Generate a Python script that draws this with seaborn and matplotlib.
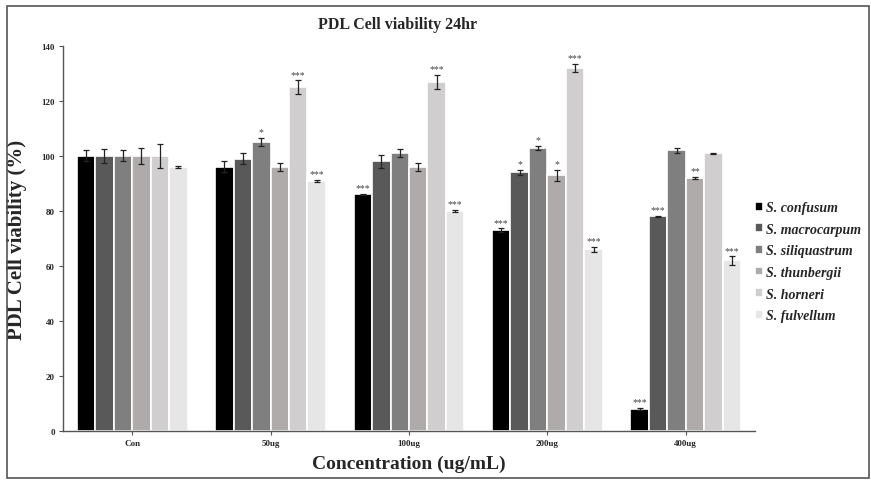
import numpy as np
import pandas as pd
import matplotlib
matplotlib.use("Agg")
import matplotlib.pyplot as plt
import seaborn as sns
from matplotlib.patches import Rectangle

concentrations = ["Con", "50ug", "100ug", "200ug", "400ug"]
species = ["S. confusum", "S. macrocarpum", "S. siliquastrum",
           "S. thunbergii", "S. horneri", "S. fulvellum"]

# mean viability (%) per species, one value per concentration
confusum = [100, 96, 86, 73, 8]
macrocarpum = [100, 99, 98, 94, 78]
siliquastrum = [100, 105, 101, 103, 102]
thunbergii = [100, 96, 96, 93, 92]
horneri = [100, 125, 127, 132, 101]
fulvellum = [96, 91, 80, 66, 62]

# error (+/-) per species
confusum_err = [2.0, 2.0, 0.3, 0.7, 0.3]
macrocarpum_err = [2.5, 2.0, 2.5, 1.0, 0.3]
siliquastrum_err = [2.0, 1.5, 1.5, 0.7, 0.8]
thunbergii_err = [3.0, 1.5, 1.5, 2.0, 0.5]
horneri_err = [4.5, 2.5, 2.5, 1.5, 0.2]
fulvellum_err = [0.3, 0.3, 0.3, 1.0, 1.5]

# significance marks
confusum_sig = ["", "", "***", "***", "***"]
macrocarpum_sig = ["", "", "", "*", "***"]
siliquastrum_sig = ["", "*", "", "*", ""]
thunbergii_sig = ["", "", "", "*", "**"]
horneri_sig = ["", "***", "***", "***", ""]
fulvellum_sig = ["", "***", "***", "***", "***"]

values = [confusum, macrocarpum, siliquastrum, thunbergii, horneri, fulvellum]
errors = [confusum_err, macrocarpum_err, siliquastrum_err, thunbergii_err,
          horneri_err, fulvellum_err]
sigs = [confusum_sig, macrocarpum_sig, siliquastrum_sig, thunbergii_sig,
        horneri_sig, fulvellum_sig]

colors = ["#000000", "#595959", "#7f7f7f", "#afabab", "#d0cece", "#e7e6e6"]

rows = []
for sp, vals in zip(species, values):
    for conc, v in zip(concentrations, vals):
        rows.append({"Concentration": conc, "Species": sp, "Viability": v})
df = pd.DataFrame(rows)

sns.set_style("white")
plt.rcParams["font.family"] = ["Liberation Serif", "DejaVu Serif"]

fig = plt.figure(figsize=(8.71, 4.81), dpi=100)
ax = fig.add_axes([0.0723, 0.1019, 0.7945, 0.8004])

sns.barplot(data=df, x="Concentration", y="Viability", hue="Species",
            hue_order=species, order=concentrations, palette=colors,
            errorbar=None, width=0.8, edgecolor="white", linewidth=1.2,
            saturation=1, ax=ax)

for container, errs, marks in zip(ax.containers, errors, sigs):
    xs = [p.get_x() + p.get_width() / 2 for p in container.patches]
    hs = [p.get_height() for p in container.patches]
    ax.errorbar(xs, hs, yerr=errs, fmt="none", ecolor="#222222",
                elinewidth=0.9, capsize=2, capthick=0.9)
    for x, h, e, m in zip(xs, hs, errs, marks):
        if m:
            ax.text(x, h + e + 0.6, m, ha="center", va="bottom",
                    fontsize=7, color="#444444")

ax.set_ylim(0, 140)
ax.set_xlim(-0.5, 4.5)
ax.set_yticks(range(0, 141, 20))
ax.tick_params(axis="both", which="both", length=3, width=0.8,
               color="#555555", labelsize=6.5, pad=3)
ax.tick_params(axis="y", direction="out", left=True)
ax.tick_params(axis="x", direction="out", bottom=True)
for lab in ax.get_xticklabels() + ax.get_yticklabels():
    lab.set_fontweight("bold")

sns.despine(ax=ax)
for s in ["left", "bottom"]:
    ax.spines[s].set_color("#555555")
    ax.spines[s].set_linewidth(1.0)

ax.set_xlabel("Concentration (ug/mL)", fontsize=14, fontweight="bold",
              labelpad=5)
ax.set_ylabel("PDL Cell viability (%)", fontsize=15, fontweight="bold",
              labelpad=10)
fig.text(0.4565, 0.948, "PDL Cell viability 24hr", ha="center", va="center",
         fontsize=11.5, fontweight="bold")

leg = ax.legend(loc="center left", bbox_to_anchor=(0.99, 0.44), frameon=False,
                handlelength=0.6, handleheight=0.6, handletextpad=0.2,
                labelspacing=0.62, borderaxespad=0.1,
                prop={"style": "italic", "weight": "bold", "size": 10})

fig.patches.append(Rectangle((0.008, 0.004), 0.99, 0.982,
                             transform=fig.transFigure, fill=False,
                             edgecolor="#555555", linewidth=1.2))

fig.savefig("out.png", dpi=100)
